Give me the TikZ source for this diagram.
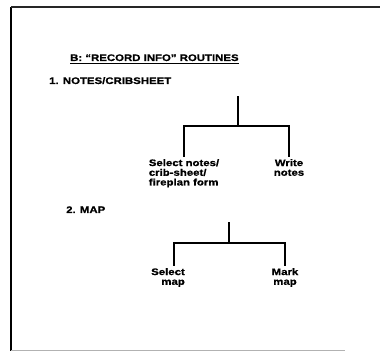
\documentclass[tikz,border=0pt]{standalone}
\usepackage{fontspec}
\setmainfont{Liberation Sans}[FakeStretch=1.2]
\newfontfamily\heavy{Liberation Sans}[FakeStretch=1.2,FakeBold=0.8]
\begin{document}
\begin{tikzpicture}[x=1pt,y=1pt,
  lbl/.style={font=\fontsize{9.5}{9.7}\selectfont\heavy\bfseries, inner sep=0pt},
  tree/.style={line width=1.3pt, line cap=rect}]
\useasboundingbox (0,0) rectangle (380,352);
% frame
\draw[line width=1.6pt] (11,1) -- (11,345);
\draw[line width=1.4pt, black!85] (11,345) -- (380,345);
\draw[line width=0.6pt, black!30] (11,1.5) -- (345,1.5);
% headings
\node[lbl, anchor=base west] (title) at (70,291) {B: “RECORD INFO” ROUTINES};
\draw[line width=1pt] ([yshift=-2.2pt]title.base west) -- ([yshift=-2.2pt]title.base east);
\node[lbl, anchor=base west] (h1) at (49,268) {1. NOTES/CRIBSHEET};
\node[lbl, anchor=base west] (h2) at (66,139) {2. MAP};
% tree 1
\coordinate (t1) at (238,255);
\coordinate (j1) at (238,226);
\node[lbl, anchor=north, align=left] (sel1) at (184,193) {Select notes/\\crib-sheet/\\fireplan form};
\node[lbl, anchor=north, align=center] (wr) at (289,193) {Write\\notes};
\draw[tree] (t1) -- (j1);
\draw[tree] ([yshift=3pt]sel1.north) |- (j1) -| ([yshift=3pt]wr.north);
% tree 2
\coordinate (t2) at (229,129);
\coordinate (j2) at (229,109);
\coordinate (d21) at (174,87);
\node[lbl, anchor=north east, align=right] (sm) at (185,84) {Select\\map};
\node[lbl, anchor=north, align=center] (mm) at (285,84) {Mark\\map};
\draw[tree] (t2) -- (j2);
\draw[tree] (d21) |- (j2) -| ([yshift=3pt]mm.north);
\end{tikzpicture}
\end{document}
